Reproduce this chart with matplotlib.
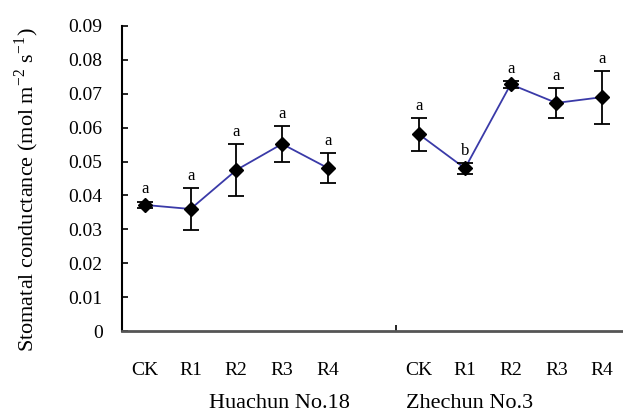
import numpy as np
import matplotlib
matplotlib.use('Agg')
import matplotlib.pyplot as plt

plt.rcParams['font.family'] = ['Liberation Serif', 'DejaVu Serif']
plt.rcParams['mathtext.fontset'] = 'stix'

# data
treatments = ['CK', 'R1', 'R2', 'R3', 'R4']
cultivars = ['Huachun No.18', 'Zhechun No.3']
hua_mean = [0.0372, 0.0360, 0.0475, 0.0552, 0.0481]
hua_err = [0.0010, 0.0061, 0.0078, 0.0052, 0.0044]
hua_sig = ['a', 'a', 'a', 'a', 'a']
zhe_mean = [0.0580, 0.0480, 0.0728, 0.0673, 0.0690]
zhe_err = [0.0048, 0.0017, 0.0010, 0.0043, 0.0078]
zhe_sig = ['a', 'b', 'a', 'a', 'a']
yticks = [0, 0.01, 0.02, 0.03, 0.04, 0.05, 0.06, 0.07, 0.08, 0.09]

W, H = 623, 416
fig = plt.figure(figsize=(W / 100, H / 100), dpi=100)
ax = fig.add_axes([122 / W, 1 - 331 / H, 503 / W, 305 / H])

x1 = np.arange(5)
x2 = np.arange(5) + 6
for xs, m, e, sig in [(x1, hua_mean, hua_err, hua_sig), (x2, zhe_mean, zhe_err, zhe_sig)]:
    ax.plot(xs, m, color='#3a3aa8', lw=1.3, zorder=2)
    ax.errorbar(xs, m, yerr=e, fmt='D', color='black', ms=7, capsize=6,
                elinewidth=1.3, capthick=1.3, zorder=3)
    for xi, mi, ei, s in zip(xs, m, e, sig):
        ax.text(xi, mi + ei + 0.0012, s, ha='center', va='bottom', fontsize=12)

ax.set_xlim(-0.5, 10.5)
ax.set_ylim(0, 0.09)
ax.set_yticks(yticks)
ax.set_yticklabels(['0' if v == 0 else f'{v:.2f}' for v in yticks], fontsize=14)
ax.tick_params(axis='y', direction='in', length=4, width=1.2, pad=14)

ax.set_xticks(list(x1) + list(x2))
ax.set_xticklabels(treatments + treatments, fontsize=14)
ax.tick_params(axis='x', which='major', length=0, pad=22)
ax.set_xticks([5.5], minor=True)
ax.tick_params(axis='x', which='minor', direction='in', length=4, width=1.2, color='black')

for s in ['top', 'right']:
    ax.spines[s].set_visible(False)
ax.spines['left'].set_linewidth(1.5)
ax.spines['bottom'].set_linewidth(2)
ax.spines['bottom'].set_color('#555555')

fig.text(27 / W, 1 - 190 / H, 'Stomatal conductance (mol m$^{\\mathregular{-2}}$ s$^{\\mathregular{-1}}$)',
         rotation=90, ha='center', va='center', fontsize=16)
fig.text(279 / W, 1 - 403 / H, cultivars[0], ha='center', va='center', fontsize=16)
fig.text(470 / W, 1 - 403 / H, cultivars[1], ha='center', va='center', fontsize=16)

fig.savefig('out.png', dpi=100)
